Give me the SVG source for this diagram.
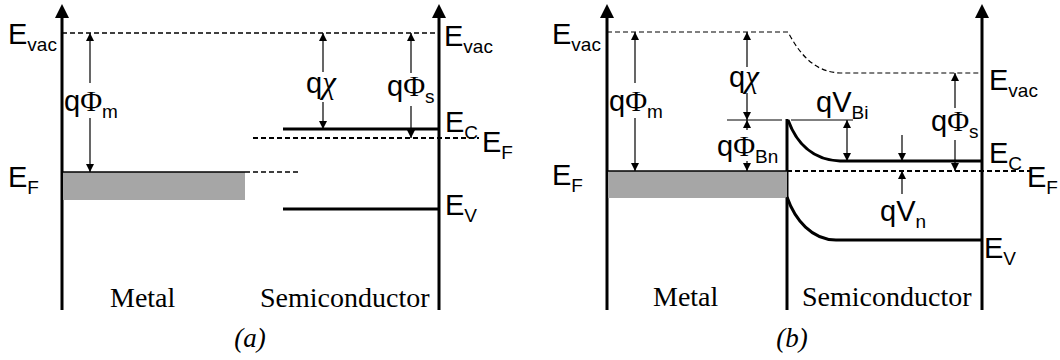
<svg xmlns="http://www.w3.org/2000/svg" width="1060" height="360" viewBox="0 0 1060 360">
<style>
.lbl{font-family:"Liberation Sans",Arial,sans-serif;font-size:29px;fill:#000}
.sub{font-size:19px}
.phi{font-family:"Liberation Serif","Times New Roman",serif;font-size:30px}
.chi{font-family:"Liberation Serif","Times New Roman",serif;font-style:italic;font-size:31px}
.reg{font-family:"Liberation Serif","Times New Roman",serif;font-size:28px;fill:#000}
.cap{font-family:"Liberation Serif","Times New Roman",serif;font-style:italic;font-size:27px;fill:#000;text-anchor:middle}
.axis{stroke:#000;stroke-width:3;fill:none}
.band{stroke:#000;stroke-width:3;fill:none}
.dash{stroke:#000;stroke-width:1.5;stroke-dasharray:5 3;fill:none}
.dash2{stroke:#000;stroke-width:2;stroke-dasharray:5 3;fill:none}
.thin{stroke:#000;stroke-width:1;fill:none}
.arr{stroke:#000;stroke-width:1.2;fill:none}
.fill{fill:#a6a6a6}
</style>
<defs>
<marker id="ah" viewBox="0 0 8 8" refX="8" refY="4" markerWidth="8" markerHeight="8" markerUnits="userSpaceOnUse" orient="auto-start-reverse">
<path d="M0,0 L8,4 L0,8 z" fill="#000"/>
</marker>
</defs>

<g id="panel-a">
<g id="a-axes">
<line class="axis" x1="62" y1="14" x2="62" y2="310"/>
<polygon points="55,18 69,18 62,4" fill="#000"/>
<line class="axis" x1="439" y1="14" x2="439" y2="310"/>
<polygon points="432,18 446,18 439,4" fill="#000"/>
</g>
<g id="a-metal">
<rect class="fill" x="63" y="172" width="182" height="28"/>
<line class="thin" x1="62" y1="172" x2="245" y2="172" style="stroke-width:1.5"/>
<line class="dash" x1="245" y1="172" x2="298" y2="172"/>
</g>
<g id="a-levels">
<line class="dash" x1="62" y1="33" x2="439" y2="33"/>
<line class="band" x1="283" y1="129" x2="439" y2="129"/>
<line class="dash2" x1="253" y1="138" x2="479" y2="138"/>
<line class="band" x1="283" y1="209" x2="439" y2="209"/>
</g>
<g id="a-connectors">
<line class="arr" x1="90" y1="83" x2="90" y2="33" marker-end="url(#ah)"/>
<line class="arr" x1="90" y1="118" x2="90" y2="172" marker-end="url(#ah)"/>
<line class="arr" x1="323" y1="72" x2="323" y2="33" marker-end="url(#ah)"/>
<line class="arr" x1="323" y1="102" x2="323" y2="129" marker-end="url(#ah)"/>
<line class="arr" x1="411" y1="73" x2="411" y2="33" marker-end="url(#ah)"/>
<line class="arr" x1="411" y1="106" x2="411" y2="138" marker-end="url(#ah)"/>
</g>
<g id="a-labels">
<text class="lbl" x="8" y="44">E<tspan class="sub" dy="7">vac</tspan></text>
<text class="lbl" x="8" y="187">E<tspan class="sub" dy="7">F</tspan></text>
<text class="lbl" x="64" y="111">q<tspan class="phi">Φ</tspan><tspan class="sub" dy="7">m</tspan></text>
<text class="lbl" x="306" y="93">q<tspan class="chi">χ</tspan></text>
<text class="lbl" x="387" y="96">q<tspan class="phi">Φ</tspan><tspan class="sub" dy="7">s</tspan></text>
<text class="lbl" x="444" y="46">E<tspan class="sub" dy="7">vac</tspan></text>
<text class="lbl" x="445" y="132">E<tspan class="sub" dy="7">C</tspan></text>
<text class="lbl" x="482" y="152">E<tspan class="sub" dy="7">F</tspan></text>
<text class="lbl" x="445" y="215">E<tspan class="sub" dy="7">V</tspan></text>
<text class="reg" x="110" y="307">Metal</text>
<text class="reg" x="260" y="307">Semiconductor</text>
<text class="cap" x="250" y="347">(a)</text>
</g>
</g>

<g id="panel-b">
<g id="b-axes">
<line class="axis" x1="607" y1="14" x2="607" y2="310"/>
<polygon points="600,18 614,18 607,4" fill="#000"/>
<line class="axis" x1="982" y1="14" x2="982" y2="310"/>
<polygon points="975,18 989,18 982,4" fill="#000"/>
<line class="axis" x1="787" y1="119" x2="787" y2="310"/>
</g>
<g id="b-metal">
<rect class="fill" x="608" y="171" width="179" height="27"/>
<line class="thin" x1="607" y1="171" x2="787" y2="171" style="stroke-width:1.5"/>
</g>
<g id="b-levels">
<path class="dash" d="M607,32 L788,32 C800,55 815,72 840,73 L982,73" style="stroke-width:1.2"/>
<path class="band" d="M788,120 C796,142 812,160 840,161 L982,161"/>
<line class="dash2" x1="787" y1="171" x2="1030" y2="171"/>
<path class="band" d="M787,197 C795,220 812,240 836,240 L982,240"/>
<line class="thin" x1="727" y1="120" x2="782" y2="120"/>
<line class="thin" x1="791" y1="120" x2="853" y2="120"/>
</g>
<g id="b-connectors">
<line class="arr" x1="635" y1="83" x2="635" y2="32" marker-end="url(#ah)"/>
<line class="arr" x1="635" y1="118" x2="635" y2="171" marker-end="url(#ah)"/>
<line class="arr" x1="747" y1="67" x2="747" y2="32" marker-end="url(#ah)"/>
<line class="arr" x1="747" y1="93" x2="747" y2="120" marker-end="url(#ah)"/>
<line class="arr" x1="747" y1="130" x2="747" y2="120" marker-end="url(#ah)"/>
<line class="arr" x1="747" y1="161" x2="747" y2="171" marker-end="url(#ah)"/>
<line class="arr" x1="847" y1="120" x2="847" y2="161" marker-start="url(#ah)" marker-end="url(#ah)"/>
<line class="arr" x1="902" y1="135" x2="902" y2="161" marker-end="url(#ah)"/>
<line class="arr" x1="902" y1="194" x2="902" y2="171" marker-end="url(#ah)"/>
<line class="arr" x1="955" y1="108" x2="955" y2="73" marker-end="url(#ah)"/>
<line class="arr" x1="955" y1="140" x2="955" y2="171" marker-end="url(#ah)"/>
</g>
<g id="b-labels">
<text class="lbl" x="552" y="44">E<tspan class="sub" dy="7">vac</tspan></text>
<text class="lbl" x="552" y="185">E<tspan class="sub" dy="7">F</tspan></text>
<text class="lbl" x="609" y="111">q<tspan class="phi">Φ</tspan><tspan class="sub" dy="7">m</tspan></text>
<text class="lbl" x="729" y="87">q<tspan class="chi">χ</tspan></text>
<text class="lbl" x="717" y="156">q<tspan class="phi">Φ</tspan><tspan class="sub" dy="7">Bn</tspan></text>
<text class="lbl" x="816" y="112">qV<tspan class="sub" dy="7">Bi</tspan></text>
<text class="lbl" x="931" y="131">q<tspan class="phi">Φ</tspan><tspan class="sub" dy="7">s</tspan></text>
<text class="lbl" x="880" y="221">qV<tspan class="sub" dy="7">n</tspan></text>
<text class="lbl" x="989" y="90">E<tspan class="sub" dy="7">vac</tspan></text>
<text class="lbl" x="989" y="163">E<tspan class="sub" dy="7">C</tspan></text>
<text class="lbl" x="1027" y="187">E<tspan class="sub" dy="7">F</tspan></text>
<text class="lbl" x="984" y="258">E<tspan class="sub" dy="7">V</tspan></text>
<text class="reg" x="653" y="306">Metal</text>
<text class="reg" x="802" y="306">Semiconductor</text>
<text class="cap" x="792" y="347">(b)</text>
</g>
</g>
</svg>
